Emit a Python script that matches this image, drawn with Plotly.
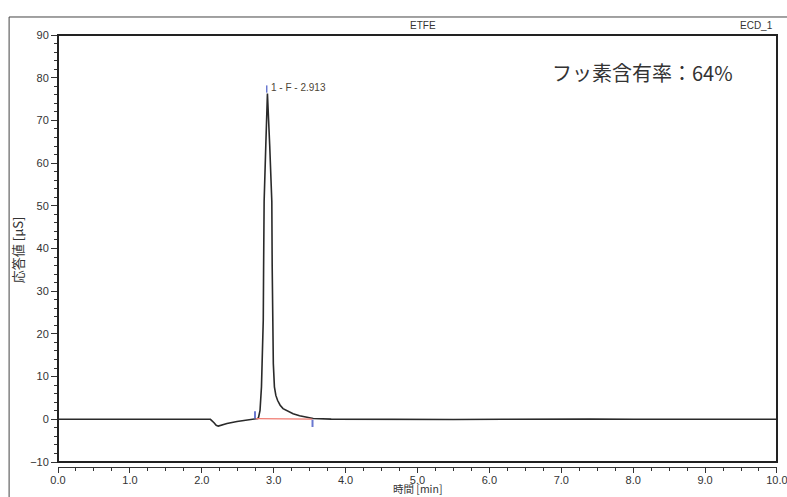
import plotly.graph_objects as go

# ---- data ----
time_min = [0.0, 0.5, 1.0, 1.5, 2.0, 2.12, 2.17, 2.2, 2.23, 2.27, 2.35, 2.49, 2.6, 2.67,
            2.74, 2.78, 2.79, 2.81, 2.83, 2.845, 2.855, 2.86, 2.867, 2.89, 2.913, 2.945,
            2.974, 2.979, 2.984, 2.995, 3.01, 3.03, 3.055, 3.09, 3.13, 3.2, 3.27, 3.36,
            3.46, 3.55, 3.8, 4.2, 4.8, 5.5, 6.2, 6.8, 7.1, 7.4, 8.0, 8.6, 9.0, 9.5, 10.0]
signal_us = [0.0, 0.0, 0.0, 0.0, 0.0, 0.0, -0.8, -1.4, -1.6, -1.4, -1.0, -0.5, -0.25, -0.1,
             0.1, 0.2, 0.5, 2.1, 7.6, 15.0, 23.2, 36.0, 51.0, 64.0, 76.3, 64.0,
             51.0, 36.0, 23.2, 13.0, 7.6, 5.6, 4.4, 3.3, 2.5, 1.8, 1.3, 0.85,
             0.5, 0.2, 0.05, 0.0, 0.0, -0.05, 0.0, 0.05, 0.15, 0.05, 0.0, -0.05, 0.05, 0.0, 0.0]

baseline_t = [2.75, 3.54]
baseline_v = [0.15, 0.05]

peak_name = "1 - F - 2.913"
peak_time = 2.913
peak_height = 76.3

x_ticks = [0, 1, 2, 3, 4, 5, 6, 7, 8, 9, 10]
x_ticktext = ["0.0", "1.0", "2.0", "3.0", "4.0", "5.0", "6.0", "7.0", "8.0", "9.0", "10.0"]
y_ticks = [-10, 0, 10, 20, 30, 40, 50, 60, 70, 80, 90]

TICKFONT = dict(family="Liberation Sans Narrow, Arial Narrow, Liberation Sans, Arial", size=11, color="#333333")
JP = "Noto Sans CJK JP"

fig = go.Figure()
fig.add_trace(go.Scatter(x=time_min, y=signal_us, mode="lines",
                         line=dict(color="#2a2a2a", width=1.6), hoverinfo="skip"))
fig.add_trace(go.Scatter(x=baseline_t, y=baseline_v, mode="lines",
                         line=dict(color="#f07a70", width=1.2), hoverinfo="skip"))
# integration markers
blue = "#6a78d0"
fig.add_trace(go.Scatter(x=[baseline_t[0] - 0.01] * 2, y=[0.2, 1.9], mode="lines",
                         line=dict(color=blue, width=2), hoverinfo="skip"))
fig.add_trace(go.Scatter(x=[baseline_t[1]] * 2, y=[-0.1, -1.8], mode="lines",
                         line=dict(color=blue, width=2), hoverinfo="skip"))
fig.add_trace(go.Scatter(x=[peak_time - 0.01] * 2, y=[peak_height + 0.2, peak_height + 1.9],
                         mode="lines", line=dict(color=blue, width=1.5), hoverinfo="skip"))

dom0 = 5 / 432

fig.update_layout(
    width=787, height=497,
    margin=dict(l=58, r=10, t=35, b=30, autoexpand=False),
    paper_bgcolor="white", plot_bgcolor="white",
    showlegend=False,
    xaxis=dict(range=[0, 10.0005], domain=[0, 1], anchor="free", position=0,
               tickmode="array", tickvals=x_ticks, ticktext=x_ticktext,
               ticks="outside", ticklen=5, tickwidth=1, tickcolor="#333",
               ticklabeloverflow="allow", automargin=False, ticklabelstandoff=-2,
               showline=True, linecolor="#333", linewidth=1,
               showgrid=False, zeroline=False, tickfont=TICKFONT,
               minor=dict(tick0=0, dtick=0.25, ticks="outside", ticklen=3,
                          tickcolor="#333", showgrid=False)),
    yaxis=dict(range=[-10, 90], domain=[dom0, 1], automargin=False,
               tickmode="array", tickvals=y_ticks,
               ticks="outside", ticklen=6, tickwidth=1, tickcolor="#333",
               showline=True, linecolor="#333", linewidth=1,
               showgrid=False, zeroline=False, tickfont=TICKFONT,
               minor=dict(tick0=0, dtick=2, ticks="outside", ticklen=3,
                          tickcolor="#333", showgrid=False)),
    shapes=[
        dict(type="rect", xref="x domain", yref="y domain", x0=0, x1=1, y0=0, y1=1,
             line=dict(color="#222", width=2)),
        dict(type="line", xref="paper", yref="paper", x0=-0.068, x1=-0.068,
             y0=-0.1, y1=1.0417, line=dict(color="#444", width=1)),
        dict(type="line", xref="paper", yref="paper", x0=-0.068, x1=1.1,
             y0=1.0417, y1=1.0417, line=dict(color="#444", width=1)),
    ],
    annotations=[
        dict(x=peak_time + 0.022, y=peak_height + 1.3, xref="x", yref="y", text=peak_name,
             showarrow=False, xanchor="left", yanchor="middle",
             font=dict(family=TICKFONT["family"], size=10, color="#4d4536")),
        dict(x=0.8136, y=0.914, xref="paper", yref="paper", text="フッ素含有率：64%",
             showarrow=False, xanchor="center", yanchor="middle",
             font=dict(family=JP, size=20, color="#333")),
        dict(x=0.5077, y=1.023, xref="paper", yref="paper", text="ETFE",
             showarrow=False, xanchor="center", yanchor="middle",
             font=dict(family=TICKFONT["family"], size=10, color="#333")),
        dict(x=0.972, y=1.023, xref="paper", yref="paper", text="ECD_1",
             showarrow=False, xanchor="center", yanchor="middle",
             font=dict(family=TICKFONT["family"], size=10, color="#333")),
        dict(x=0.5, y=-0.0690, xref="paper", yref="paper", text="時間 [min]",
             showarrow=False, xanchor="center", yanchor="bottom", borderpad=0,
             font=dict(family=JP, size=10.5, color="#333")),
        dict(x=-0.057, y=0.502, xref="paper", yref="paper", text="応答値 [μS]",
             showarrow=False, xanchor="center", yanchor="middle", textangle=-90,
             font=dict(family=JP, size=13, color="#333")),
    ],
)

fig.write_html("out.html", config={"displayModeBar": False},
               post_script="document.body.style.margin='0';document.body.style.overflow='hidden';")
